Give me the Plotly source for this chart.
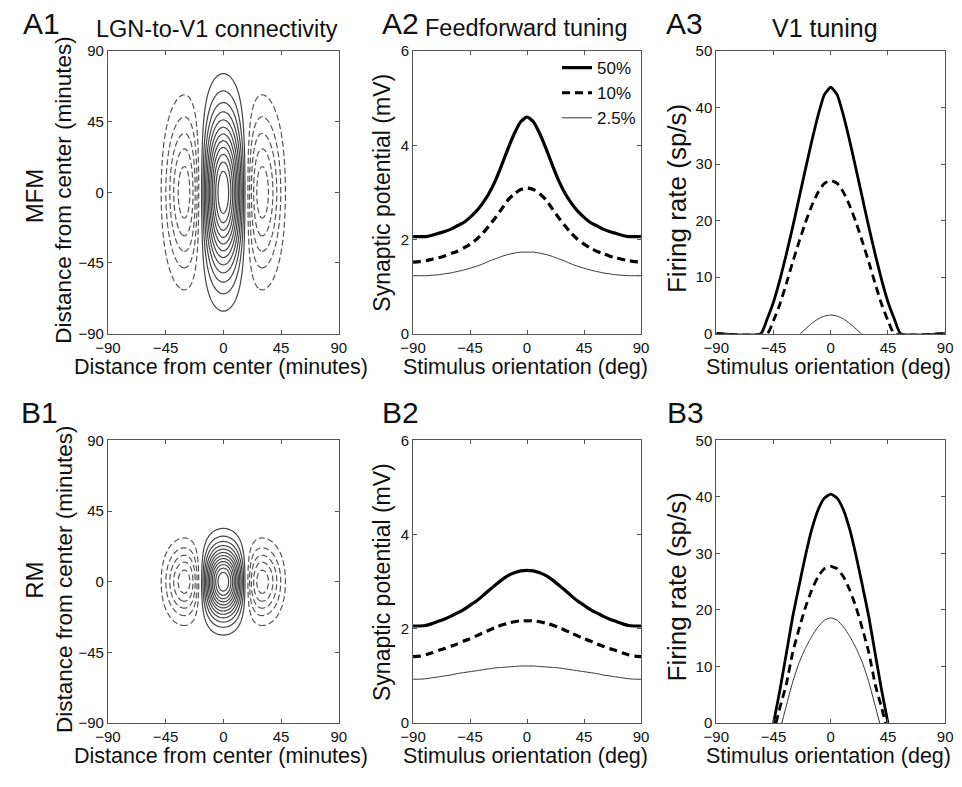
import numpy as np
import plotly.graph_objects as go

W, H = 962, 787
FONT = "Liberation Sans, Arial, sans-serif"
TXT = "#111111"
AX = "#555555"

# ---------------- data ----------------
# Receptive-field (Gabor) parameters read from panels A1 / B1 (minutes)
rf_period = 72.0                 # zero crossing of centre lobe at +-18 min
rf_sigma_x = 25.5
rf_sigma_y_MFM = 33.4            # centre lobe reaches ~ +-75 min
rf_sigma_y_RM = 15.0             # centre lobe reaches ~ +-34 min
contour_step = 1.0 / 13.0
n_pos_levels = 12
n_neg_levels = 5

# Feedforward tuning (mV)
ff_x = [-90, -85, -80, -75, -70, -65, -60, -55, -50, -45, -40, -35, -30, -25, -20, -15, -10, -5,
        0, 5, 10, 15, 20, 25, 30, 35, 40, 45, 50, 55, 60, 65, 70, 75, 80, 85, 90]
A2_50 = [2.06, 2.06, 2.06, 2.09, 2.13, 2.17, 2.22, 2.29, 2.36, 2.47, 2.60, 2.77, 2.98, 3.25, 3.58, 3.93, 4.25, 4.50,
         4.60, 4.50, 4.25, 3.93, 3.58, 3.25, 2.98, 2.77, 2.60, 2.47, 2.36, 2.29, 2.22, 2.17, 2.13, 2.09, 2.06, 2.06, 2.06]
A2_10 = [1.52, 1.53, 1.55, 1.58, 1.61, 1.65, 1.70, 1.75, 1.82, 1.90, 2.00, 2.13, 2.29, 2.46, 2.65, 2.84, 2.97, 3.06,
         3.09, 3.06, 2.97, 2.84, 2.65, 2.46, 2.29, 2.13, 2.00, 1.90, 1.82, 1.75, 1.70, 1.65, 1.61, 1.58, 1.55, 1.53, 1.52]
A2_25 = [1.23, 1.23, 1.23, 1.24, 1.25, 1.27, 1.29, 1.32, 1.35, 1.39, 1.43, 1.48, 1.54, 1.59, 1.64, 1.68, 1.71, 1.73,
         1.73, 1.73, 1.71, 1.68, 1.64, 1.59, 1.54, 1.48, 1.43, 1.39, 1.35, 1.32, 1.29, 1.27, 1.25, 1.24, 1.23, 1.23, 1.23]
B2_50 = [2.06, 2.06, 2.07, 2.11, 2.16, 2.21, 2.27, 2.34, 2.41, 2.50, 2.59, 2.70, 2.82, 2.93, 3.04, 3.13, 3.19, 3.23,
         3.24, 3.23, 3.19, 3.13, 3.04, 2.93, 2.82, 2.70, 2.59, 2.50, 2.41, 2.34, 2.27, 2.21, 2.16, 2.11, 2.07, 2.06, 2.06]
B2_10 = [1.41, 1.42, 1.45, 1.49, 1.54, 1.58, 1.63, 1.68, 1.74, 1.79, 1.85, 1.91, 1.97, 2.03, 2.08, 2.12, 2.15, 2.17,
         2.17, 2.17, 2.15, 2.12, 2.08, 2.03, 1.97, 1.91, 1.85, 1.79, 1.74, 1.68, 1.63, 1.58, 1.54, 1.49, 1.45, 1.42, 1.41]
B2_25 = [0.93, 0.93, 0.94, 0.96, 0.98, 1.00, 1.02, 1.05, 1.07, 1.09, 1.11, 1.13, 1.15, 1.17, 1.18, 1.19, 1.20, 1.21,
         1.21, 1.21, 1.20, 1.19, 1.18, 1.17, 1.15, 1.13, 1.11, 1.09, 1.07, 1.05, 1.02, 1.00, 0.98, 0.96, 0.94, 0.93, 0.93]

# V1 tuning (sp/s)
A3_50_x = [-90, -55, -50, -45, -40, -35, -30, -25, -20, -15, -10, -5, 0, 5, 10, 15, 20, 25, 30, 35, 40, 45, 50, 55, 90]
A3_50 = [0, 0, 2.6, 5.6, 9.5, 14.0, 18.8, 23.9, 29.0, 34.0, 38.6, 42.3, 43.6, 42.3, 38.6, 34.0, 29.0, 23.9, 18.8, 14.0, 9.5, 5.6, 2.6, 0, 0]
A3_10_x = [-90, -50, -45, -40, -35, -30, -25, -20, -15, -10, -5, 0, 5, 10, 15, 20, 25, 30, 35, 40, 45, 50, 90]
A3_10 = [0, 0, 2.3, 5.2, 8.8, 12.6, 16.2, 19.6, 22.6, 25.0, 26.6, 27.1, 26.6, 25.0, 22.6, 19.6, 16.2, 12.6, 8.8, 5.2, 2.3, 0, 0]
A3_25_x = [-24, -20, -15, -10, -5, 0, 5, 10, 15, 20, 24]
A3_25 = [0, 0.8, 1.8, 2.6, 3.1, 3.3, 3.1, 2.6, 1.8, 0.8, 0]
B3_50_x = [-45, -40, -35, -30, -25, -20, -15, -10, -5, 0, 5, 10, 15, 20, 25, 30, 35, 40, 45]
B3_50 = [0, 5.8, 12.2, 18.7, 24.2, 29.5, 34.2, 37.7, 39.8, 40.5, 39.8, 37.7, 34.2, 29.5, 24.2, 18.7, 12.2, 5.8, 0]
B3_10_x = [-43, -40, -35, -30, -25, -20, -15, -10, -5, 0, 5, 10, 15, 20, 25, 30, 35, 40, 43]
B3_10 = [0, 2.7, 6.8, 12.4, 16.6, 20.4, 23.5, 25.9, 27.3, 27.7, 27.3, 25.9, 23.5, 20.4, 16.6, 12.4, 6.8, 2.7, 0]
B3_25_x = [-38.5, -35, -30, -25, -20, -15, -10, -5, 0, 5, 10, 15, 20, 25, 30, 35, 38.5]
B3_25 = [0, 3.0, 7.2, 10.6, 13.2, 15.3, 17.0, 18.2, 18.6, 18.2, 17.0, 15.3, 13.2, 10.6, 7.2, 3.0, 0]

series_names = ["50%", "10%", "2.5%"]
xy_ticks = [-90, -45, 0, 45, 90]
ff_ticks = [0, 2, 4, 6]
fr_ticks = [0, 10, 20, 30, 40, 50]

# ---------------- layout helpers ----------------
# the page photograph shows the layout squeezed vertically (~0.98, +8 px); compensate
SY, OY = 0.98, 7.84

def fx(px):
    return px / W

def fy(py):
    return 1 - ((py - OY) / SY) / H

col_px = [(97, 333), (409, 642), (719, 953)]
row_px = [(50, 333), (440, 723)]

fig = go.Figure()

axis_common = dict(showline=True, mirror="allticks", linecolor=AX, linewidth=1,
                   ticks="inside", ticklen=4, tickcolor=AX, showgrid=False, zeroline=False,
                   tickfont=dict(family=FONT, size=15, color=TXT), fixedrange=True)

layout_axes = {}
k = 0
for r in range(2):
    for c in range(3):
        k += 1
        xn = "xaxis" if k == 1 else f"xaxis{k}"
        yn = "yaxis" if k == 1 else f"yaxis{k}"
        xa = dict(axis_common, domain=[fx(col_px[c][0]), fx(col_px[c][1])], range=[-90, 90],
                  tickvals=xy_ticks, anchor=("y" if k == 1 else f"y{k}"))
        if c == 0:
            yr, yt = [-90, 90], xy_ticks
        elif c == 1:
            yr, yt = [0, 6], ff_ticks
        else:
            yr, yt = [0, 50], fr_ticks
        ya = dict(axis_common, domain=[fy(row_px[r][1]), fy(row_px[r][0])], range=yr,
                  tickvals=yt, anchor=("x" if k == 1 else f"x{k}"))
        layout_axes[xn] = xa
        layout_axes[yn] = ya

def ax_ref(k):
    return ("x" if k == 1 else f"x{k}"), ("y" if k == 1 else f"y{k}")

# ---------------- contour panels ----------------
grid = np.linspace(-90, 90, 241)
GX, GY = np.meshgrid(grid, grid)
for k, sy in [(1, rf_sigma_y_MFM), (4, rf_sigma_y_RM)]:
    z = np.cos(2 * np.pi * GX / rf_period) * np.exp(-GX**2 / (2 * rf_sigma_x**2) - GY**2 / (2 * sy**2))
    xr, yr = ax_ref(k)
    fig.add_trace(go.Contour(x=grid, y=grid, z=z, xaxis=xr, yaxis=yr, showscale=False,
                             autocontour=False,
                             contours=dict(start=contour_step, end=n_pos_levels * contour_step + 1e-6,
                                           size=contour_step, coloring="none"),
                             line=dict(color="#444444", width=1.2), showlegend=False, hoverinfo="skip"))
    fig.add_trace(go.Contour(x=grid, y=grid, z=z, xaxis=xr, yaxis=yr, showscale=False,
                             autocontour=False,
                             contours=dict(start=-n_neg_levels * contour_step, end=-contour_step + 1e-6,
                                           size=contour_step, coloring="none"),
                             line=dict(color="#555555", width=1.2, dash="6px,3px"),
                             showlegend=False, hoverinfo="skip"))

# ---------------- tuning curves ----------------
styles = [dict(color="#000000", width=3.2),
          dict(color="#000000", width=3.2, dash="8px,5px"),
          dict(color="#333333", width=1)]

for k, ys in [(2, [A2_50, A2_10, A2_25]), (5, [B2_50, B2_10, B2_25])]:
    xr, yr = ax_ref(k)
    for i, y in enumerate(ys):
        fig.add_trace(go.Scatter(x=ff_x, y=y, xaxis=xr, yaxis=yr, mode="lines",
                                 line=dict(styles[i], shape="spline", smoothing=0.6),
                                 name=series_names[i], showlegend=(k == 2), hoverinfo="skip"))

for k, xs, ys in [(3, [A3_50_x, A3_10_x, A3_25_x], [A3_50, A3_10, A3_25]),
                  (6, [B3_50_x, B3_10_x, B3_25_x], [B3_50, B3_10, B3_25])]:
    xr, yr = ax_ref(k)
    for i in range(3):
        st = dict(styles[i])
        if i < 2:
            st["width"] = 2.8
        fig.add_trace(go.Scatter(x=xs[i], y=ys[i], xaxis=xr, yaxis=yr, mode="lines",
                                 line=dict(st, shape="spline", smoothing=0.5),
                                 name=series_names[i], showlegend=False, hoverinfo="skip", cliponaxis=True))

# ---------------- text ----------------
ann = []
def txt(text, x, y, size, angle=0, xanchor="center", yanchor="middle"):
    ann.append(dict(text=text, x=fx(x), y=fy(y), xref="paper", yref="paper", showarrow=False,
                    textangle=angle, xanchor=xanchor, yanchor=yanchor,
                    font=dict(family=FONT, size=size, color=TXT)))

# panel letters
for lab, x, y in [("A1", 8, 22), ("A2", 375, 22), ("A3", 666, 22),
                  ("B1", 6, 412), ("B2", 375, 412), ("B3", 667, 412)]:
    txt(lab, x, y, 30, xanchor="left")
# titles
txt("LGN-to-V1 connectivity", 209, 28, 23.5)
txt("Feedforward tuning", 524, 27, 23.5)
txt("V1 tuning", 830, 27, 25)
# row labels
txt("MFM", 22, 195, 24, angle=-90)
txt("RM", 22, 580, 24, angle=-90)
# axis titles
for r, (top, bot) in enumerate(row_px):
    yc_x = bot + 33
    txt("Distance from center (minutes)", 213, yc_x, 21.5)
    txt("Stimulus orientation (deg)", 524, yc_x, 21.5)
    txt("Stimulus orientation (deg)", 834, yc_x, 21.5)
txt("Distance from center (minutes)", 52, 189, 22.5, angle=-90)
txt("Distance from center (minutes)", 52, 579, 22.5, angle=-90)
txt("Synaptic potential (mV)", 377, 192, 23, angle=-90)
txt("Synaptic potential (mV)", 377, 582, 23, angle=-90)
txt("Firing rate (sp/s)", 679, 198, 26, angle=-90)
txt("Firing rate (sp/s)", 679, 587, 26, angle=-90)

fig.update_layout(
    width=W, height=H, margin=dict(l=0, r=0, t=0, b=0),
    paper_bgcolor="white", plot_bgcolor="white",
    annotations=ann,
    legend=dict(x=fx(642), y=fy(49), xanchor="right", yanchor="top",
                bgcolor="rgba(0,0,0,0)", font=dict(family=FONT, size=17, color=TXT),
                tracegroupgap=0),
    **layout_axes,
)

fig.write_html("out.html", post_script="document.body.style.margin='0';")
